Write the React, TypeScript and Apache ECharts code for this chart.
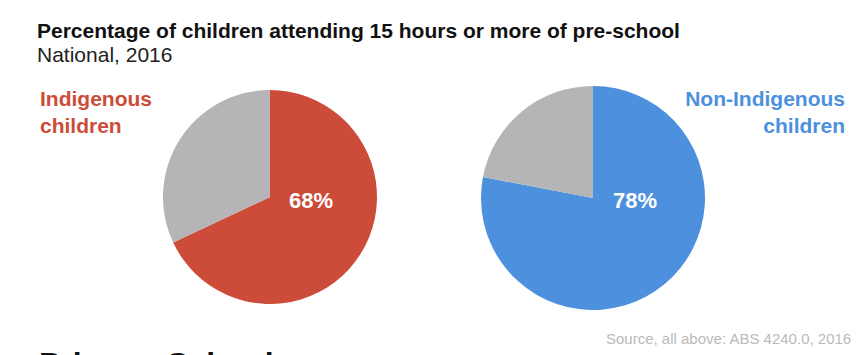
import React, { useEffect, useRef } from "react";
import * as echarts from "echarts";

const groupLines = [
  ["Indigenous", "children"],
  ["Non-Indigenous", "children"],
];
const attending = [68, 78];
const notAttending = [32, 22];
const titleText = "Percentage of children attending 15 hours or more of pre-school";
const subtitleText = "National, 2016";
const sourceText = "Source, all above: ABS 4240.0, 2016";
const nextHeading = "Primary School";

const COLORS = ["#cc4c39", "#4c90de"];
const GREY = "#b5b5b7";
const FONT = "'Liberation Sans', Arial, Helvetica, sans-serif";

export default function App() {
  const ref = useRef<HTMLDivElement>(null);
  useEffect(() => {
    document.body.style.margin = "0";
    if (!ref.current) return;
    const chart = echarts.init(ref.current, undefined, { renderer: "svg" });
    const centers = [
      [270, 197],
      [593, 198],
    ];
    const radii = [107, 112];
    const offsets = [
      [41, 3],
      [42, 2],
    ];
    const labelFont = `bold 21px ${FONT}`;
    chart.setOption({
      animation: false,
      backgroundColor: "#ffffff",
      graphic: [
        {
          type: "text",
          left: 37,
          top: 20,
          style: { text: titleText, font: `bold 21px ${FONT}`, fill: "#111" },
        },
        {
          type: "text",
          left: 37,
          top: 44,
          style: { text: subtitleText, font: `21px ${FONT}`, fill: "#222" },
        },
        ...groupLines[0].map((t, k) => ({
          type: "text",
          left: 40,
          top: 88 + k * 27,
          style: { text: t, font: labelFont, fill: COLORS[0] },
        })),
        ...groupLines[1].map((t, k) => ({
          type: "text",
          right: 22,
          top: 88 + k * 27,
          style: { text: t, font: labelFont, fill: COLORS[1] },
        })),
        {
          type: "text",
          right: 15,
          top: 331,
          style: { text: sourceText, font: `15px ${FONT}`, fill: "#bababa" },
        },
        {
          type: "text",
          left: 39,
          top: 348,
          style: { text: nextHeading, font: `bold 32px ${FONT}`, fill: "#111" },
        },
      ],
      series: attending.map((v, i) => ({
        type: "pie",
        center: centers[i],
        radius: radii[i],
        startAngle: 90,
        clockwise: true,
        silent: true,
        labelLine: { show: false },
        data: [
          {
            value: v,
            name: "attending",
            itemStyle: { color: COLORS[i] },
            label: {
              show: true,
              position: "center",
              offset: offsets[i],
              formatter: `${v}%`,
              color: "#ffffff",
              fontSize: 22,
              fontWeight: "bold",
              fontFamily: FONT,
            },
          },
          {
            value: notAttending[i],
            name: "not attending",
            itemStyle: { color: GREY },
            label: { show: false },
          },
        ],
      })),
    });
    return () => chart.dispose();
  }, []);
  return <div ref={ref} style={{ width: 867, height: 355 }} />;
}
